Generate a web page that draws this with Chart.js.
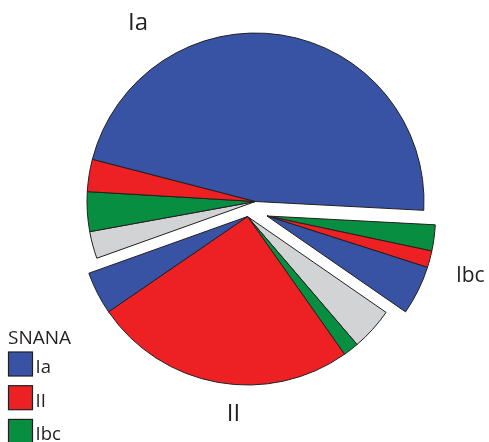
<!DOCTYPE html>
<html>
<head>
<meta charset="utf-8">
<script src="https://cdn.jsdelivr.net/npm/chart.js@4.4.1/dist/chart.umd.min.js"></script>
<style>
  html, body { margin: 0; padding: 0; background: #fff; }
</style>
</head>
<body>
<canvas id="myChart" width="489" height="442"></canvas>
<script>
// each slice: its true type (outer group) and the SNANA class it was given
var trueType  = ['Ia', 'Ia', 'Ia', 'Ia', 'II', 'II', 'II', 'II', 'Ibc', 'Ibc', 'Ibc']
var snanaType = ['Ia', 'II', 'Ibc', 'other', 'Ia', 'II', 'Ibc', 'other', 'Ia', 'II', 'Ibc']
var share     = [46.8, 3.1, 3.8, 2.6, 4.1, 25.2, 1.5, 4.1, 4.7, 1.6, 2.5]   // % of the pie

var groups = ['Ia', 'II', 'Ibc']
var legendTitle = 'SNANA'
var legendLabels = ['Ia', 'II', 'Ibc']

var colors = { Ia: '#3953a4', II: '#ed2024', Ibc: '#078e41', other: '#d1d3d4' }
var ink = '#231f20'
var fontName = '"Open Sans"'

// how far each group is pulled out of the pie (px)
var groupShift = { Ia: [2.5, -8.5], II: [-5.5, 6.5], Ibc: [14, 6] }
// group label: distance from centre, angle (deg, clockwise from 3 o'clock), font size
var groupLabel = {
   Ia:  { dist: 214, angle: -122.5, size: 24 },
   II:  { dist: 212, angle: 95.3, size: 24 },
   Ibc: { dist: 229, angle: 18.4, size: 21 }
}

// Chart.js goes clockwise, the original goes the other way round
var order = share.map(function (v, i) { return i }).reverse()
var sliceGroup = order.map(function (i) { return trueType[i] })

var explode = {
   id: 'explode',
   beforeDatasetDraw: function (chart, args) {
      var ctx = chart.ctx
      args.meta.data.forEach(function (arc, i) {
         var s = groupShift[sliceGroup[i]]
         ctx.save()
         ctx.translate(s[0], s[1])
         arc.draw(ctx)
         ctx.restore()
      })
      return false
   },
   afterDatasetsDraw: function (chart) {
      var ctx = chart.ctx
      var arc = chart.getDatasetMeta(0).data[0]
      ctx.save()
      ctx.fillStyle = ink
      ctx.textAlign = 'center'
      ctx.textBaseline = 'alphabetic'
      groups.forEach(function (g) {
         var l = groupLabel[g]
         var a = l.angle * Math.PI / 180
         ctx.font = l.size + 'px ' + fontName
         ctx.fillText(g, arc.x + Math.cos(a) * l.dist, arc.y + Math.sin(a) * l.dist)
      })
      ctx.restore()
   },
   afterDraw: function (chart) {
      var ctx = chart.ctx
      ctx.save()
      ctx.fillStyle = ink
      ctx.textAlign = 'left'
      ctx.textBaseline = 'alphabetic'
      ctx.font = '19px ' + fontName
      ctx.fillText(legendTitle, 8, 344)
      ctx.font = '18.5px ' + fontName
      legendLabels.forEach(function (lab, i) {
         var y = 352 + i * 33.7
         ctx.fillStyle = colors[lab]
         ctx.fillRect(8.5, y, 24, 24)
         ctx.lineWidth = 1.2
         ctx.strokeStyle = ink
         ctx.strokeRect(8.5, y, 24, 24)
         ctx.fillStyle = ink
         ctx.fillText(lab, 35.5, y + 21)
      })
      ctx.restore()
   }
}

var chart = new Chart(document.getElementById('myChart').getContext('2d'), {
   type: 'pie',
   data: {
      labels: order.map(function (i) { return trueType[i] + ' as ' + snanaType[i] }),
      datasets: [{
         data: order.map(function (i) { return share[i] }),
         backgroundColor: order.map(function (i) { return colors[snanaType[i]] }),
         borderColor: ink,
         borderWidth: 1,
         borderJoinStyle: 'miter'
      }]
   },
   options: {
      responsive: false,
      animation: false,
      rotation: 93,
      radius: 168.5,
      layout: { padding: { left: 17, right: 0, top: 0, bottom: 22 } },
      plugins: {
         legend: { display: false },
         tooltip: { enabled: false }
      }
   },
   plugins: [explode]
})
</script>
</body>
</html>
